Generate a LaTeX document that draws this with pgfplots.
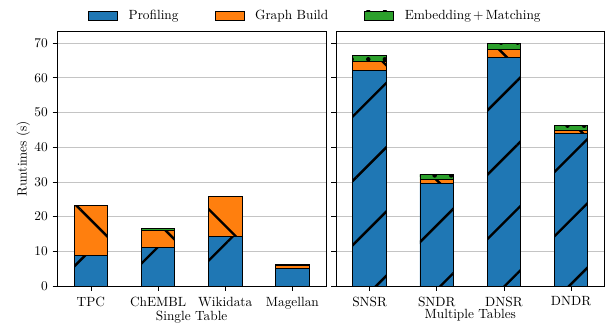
\documentclass[border=0pt]{standalone}
\usepackage{pgfplots}
\pgfplotsset{compat=1.18}
\usepackage{pgfplotstable}
\usetikzlibrary{patterns.meta}

\definecolor{tabblue}{HTML}{1F77B4}
\definecolor{taborange}{HTML}{FF7F0E}
\definecolor{tabgreen}{HTML}{2CA02C}
\definecolor{gridgray}{HTML}{C4C4C4}

% runtimes in seconds: profiling, graph build, embedding + matching
\pgfplotstableread{
x prof graph emb
0 8.9  14.3 0.1
1 11.2 4.9  0.6
2 14.2 11.5 0.1
3 5.0  0.9  0.2
}\singletable

\pgfplotstableread{
x prof graph emb
0 62.0 2.6 1.8
1 29.6 1.0 1.6
2 65.9 2.4 1.7
3 43.9 0.9 1.6
}\multitable

\pgfplotsset{
  runtimes/.style={
    width=201.5pt, height=191.25pt, scale only axis,
    ybar stacked, bar width=0.5,
    xmin=-0.5, xmax=3.5, ymin=0, ymax=73.5,
    xtick=data, ytick={0,10,...,70},
    tick align=outside, xtick pos=bottom, ytick pos=left,
    major tick length=3.6pt,
    tick style={black, line width=0.6pt},
    ymajorgrids, major grid style={gridgray, line width=0.6pt},
    axis line style={line width=0.6pt},
    xticklabel style={yshift=-1pt},
    xlabel style={yshift=5pt},
    ylabel style={yshift=-3.5pt},
  },
  prof/.style={fill=tabblue, draw=black, line width=0.6pt,
    postaction={pattern={Lines[angle=45,distance=34.1pt,line width=1.8pt,xshift=14pt]}}},
  graph/.style={fill=taborange, draw=black, line width=0.6pt,
    postaction={pattern={Lines[angle=-45,distance=34.1pt,line width=1.8pt]}}},
  emb/.style={fill=tabgreen, draw=black, line width=0.6pt,
    postaction={pattern={Dots[distance=12.45pt,radius=1.7pt,xshift=2.3pt,yshift=-2.15pt]}}},
}

\begin{document}
\begin{tikzpicture}
\begin{axis}[runtimes, name=left,
  xticklabels={TPC, ChEMBL, Wikidata, Magellan},
  xlabel={Single Table}, ylabel={Runtimes (s)},
  legend columns=3,
  legend style={draw=none, fill=none, inner sep=0pt, at={(0.114,1.061)}, anchor=west,
    /tikz/every odd column/.append style={column sep=7pt},
    /tikz/every even column/.append style={column sep=26pt},
    nodes={inner sep=1pt}},
  legend image code/.code={%
    \draw[#1] (0pt,-3.4pt) rectangle (21.75pt,3.4pt);},
  legend cell align=left,
]
\addplot[prof]  table[x=x, y=prof]  {\singletable};
\addplot[graph] table[x=x, y=graph] {\singletable};
\addplot[emb]   table[x=x, y=emb]   {\singletable};
\legend{Profiling, Graph Build, Embedding\,+\,Matching}
\end{axis}

\begin{axis}[runtimes, at={(left.south east)}, xshift=7.5pt, anchor=south west,
  xticklabels={SNSR, SNDR, DNSR, DNDR},
  xlabel={Multiple Tables}, yticklabels={},
]
\addplot[prof]  table[x=x, y=prof]  {\multitable};
\addplot[graph] table[x=x, y=graph] {\multitable};
\addplot[emb]   table[x=x, y=emb]   {\multitable};
\end{axis}

\pgfresetboundingbox
\path ([shift={(-43pt,-27pt)}]left.south west) rectangle ++(456pt,241.5pt);
\end{tikzpicture}
\end{document}
